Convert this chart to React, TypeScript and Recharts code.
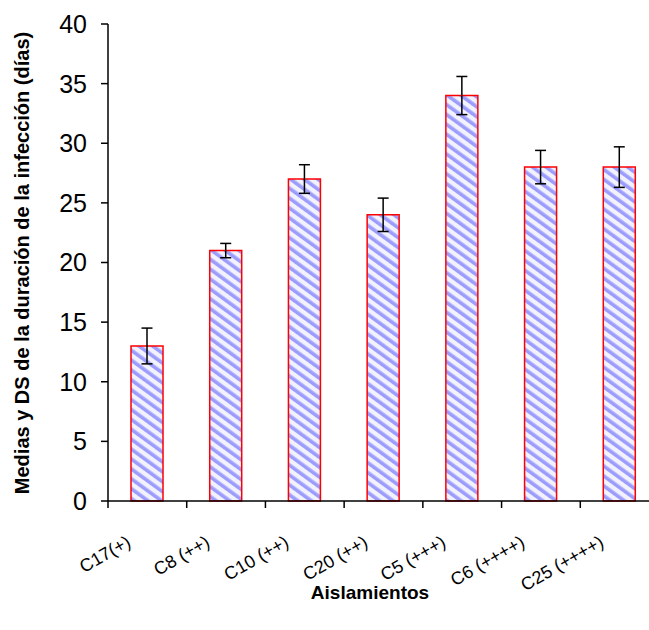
import { BarChart, Bar, XAxis, YAxis, ErrorBar } from 'recharts'

const categories = ['C17(+)', 'C8 (++)', 'C10 (++)', 'C20 (++)', 'C5 (+++)', 'C6 (++++)', 'C25 (++++)']
const means = [13, 21, 27, 24, 34, 28, 28]
const sds = [1.5, 0.6, 1.2, 1.4, 1.6, 1.4, 1.7]
const yTicks = [0, 5, 10, 15, 20, 25, 30, 35, 40]

const data = categories.map((name, i) => ({ name, mean: means[i], sd: sds[i] }))

const PLOT_LEFT = 108
const PLOT_BOTTOM = 501
const PLOT_WIDTH = 551
const BAND = PLOT_WIDTH / categories.length
const LABEL_ANGLE = -30
const rad = (LABEL_ANGLE * Math.PI) / 180
const labelMatrix = `matrix(${Math.cos(rad)}, ${Math.sin(rad)}, ${-Math.sin(rad)}, ${Math.cos(rad)}, 0, 0)`

// only the boundary tick marks; labels are drawn as rotated html below
function BoundaryTick(props: any) {
  const { x, y } = props
  const bx = x - BAND / 2
  return <line x1={bx} y1={y} x2={bx} y2={y + 7} stroke="#000" strokeWidth={1.5} />
}

export default function App() {
  return (
    <div
      style={{
        position: 'absolute',
        top: 0,
        left: 0,
        width: 649,
        height: 630,
        overflow: 'hidden',
        background: '#fff',
        fontFamily: '"Liberation Sans", Arial, sans-serif',
      }}
    >
      <BarChart
        width={660}
        height={630}
        data={data}
        margin={{ top: 24, right: 1, left: 48, bottom: 69 }}
        barSize={32}
      >
        <defs>
          <pattern
            id="hatch"
            patternUnits="userSpaceOnUse"
            width={8}
            height={8}
            patternTransform="rotate(-54)"
          >
            <rect width={8} height={8} fill="#f2f2ff" />
            <rect width={3.6} height={8} fill="#9c9cfc" />
          </pattern>
        </defs>
        <XAxis
          dataKey="name"
          height={60}
          stroke="#000"
          strokeWidth={1.5}
          tickLine={false}
          tickSize={0}
          tickMargin={0}
          interval={0}
          tick={(p: any) => <BoundaryTick {...p} />}
        />
        <YAxis
          width={60}
          domain={[0, 40]}
          ticks={yTicks}
          stroke="#000"
          strokeWidth={1.5}
          tickSize={7}
          tickMargin={14}
          tick={{ fill: '#000', fontSize: 25 }}
          interval={0}
        />
        <Bar
          dataKey="mean"
          fill="url(#hatch)"
          stroke="#ff0000"
          strokeWidth={1.5}
          isAnimationActive={false}
        >
          <ErrorBar dataKey="sd" width={5.5} stroke="#000" strokeWidth={1.5} />
        </Bar>
      </BarChart>
      {categories.map((c, i) => (
        <div
          key={c}
          style={{
            position: 'absolute',
            left: PLOT_LEFT + BAND * (i + 0.5) - 13,
            top: PLOT_BOTTOM + 48,
            whiteSpace: 'nowrap',
            fontSize: 18,
            lineHeight: '20px',
            color: '#000',
            transformOrigin: '100% 100%',
            transform: `translate(-100%, -100%) ${labelMatrix}`,
          }}
        >
          {c}
        </div>
      ))}
      <div
        style={{
          position: 'absolute',
          left: 22,
          top: 263,
          transform: 'translate(-50%, -50%) rotate(-90deg)',
          whiteSpace: 'nowrap',
          fontWeight: 'bold',
          fontSize: 20,
          color: '#000',
        }}
      >
        Medias y DS de la duración de la infección (días)
      </div>
      <div
        style={{
          position: 'absolute',
          left: 370,
          top: 593,
          transform: 'translate(-50%, -50%)',
          whiteSpace: 'nowrap',
          fontWeight: 'bold',
          fontSize: 19,
          color: '#000',
        }}
      >
        Aislamientos
      </div>
    </div>
  )
}
